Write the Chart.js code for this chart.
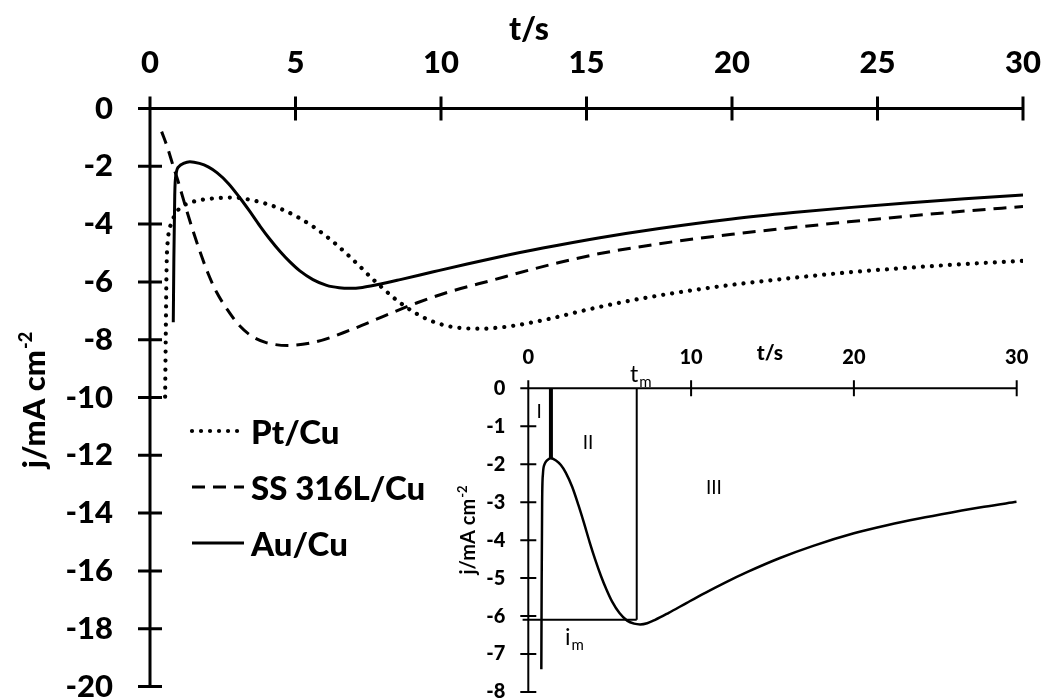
<!DOCTYPE html>
<html>
<head>
<meta charset="utf-8">
<script src="https://cdn.jsdelivr.net/npm/chart.js@4.4.0/dist/chart.umd.min.js"></script>
<style>
  body { margin: 0; background: #fff; }
  #wrap { position: relative; width: 1045px; height: 700px; }
  #main { position: absolute; left: 0; top: 0; }
  #inset { position: absolute; left: 440px; top: 330px; }
</style>
</head>
<body>
<div id="wrap">
  <canvas id="main" width="1045" height="700"></canvas>
  <canvas id="inset" width="605" height="370"></canvas>
</div>
<script>
// data (t in s, j in mA cm-2)
const tPt = [0.52, 0.54, 0.57, 0.62, 0.74, 0.9, 1.09, 1.4, 1.72, 2.3, 2.86, 3.5, 4.0, 4.6, 5.15, 5.7, 6.3, 6.75, 7.2, 7.6, 8.0, 8.5, 9.16, 9.74, 10.3, 10.9, 11.45, 12.0, 12.6, 13.75, 14.9, 16.04, 17.2, 18.7, 20, 22.1, 24, 25.5, 28, 30];
const jPt = [-9.97, -8.0, -5.5, -4.5, -3.97, -3.6, -3.4, -3.25, -3.17, -3.1, -3.08, -3.17, -3.3, -3.52, -3.8, -4.15, -4.62, -5.02, -5.45, -5.85, -6.22, -6.65, -7.1, -7.38, -7.54, -7.61, -7.62, -7.58, -7.5, -7.27, -6.99, -6.74, -6.52, -6.28, -6.1, -5.86, -5.67, -5.55, -5.38, -5.27];

const tSS = [0.40, 0.6, 0.8, 0.96, 1.1, 1.3, 1.5, 1.72, 2.0, 2.29, 2.7, 3.08, 3.5, 3.99, 4.73, 5.72, 6.87, 8.0, 9.16, 10.3, 11.8, 13.0, 14.1, 15.46, 17.5, 20, 22.1, 24, 26, 28, 30];
const jSS = [-0.80, -1.35, -2.0, -2.5, -2.98, -3.66, -4.3, -4.96, -5.72, -6.36, -7.02, -7.52, -7.88, -8.1, -8.2, -8.07, -7.67, -7.2, -6.73, -6.34, -5.93, -5.6, -5.32, -5.02, -4.68, -4.35, -4.12, -3.92, -3.73, -3.55, -3.39];

const tAu = [0.80, 0.82, 0.85, 0.90, 1.00, 1.15, 1.37, 1.7, 2.0, 2.3, 2.7, 3.08, 3.4, 3.78, 4.1, 4.47, 4.8, 5.15, 5.6, 6.07, 6.5, 6.87, 7.3, 7.79, 8.6, 9.74, 10.9, 12.03, 13.5, 15.46, 17.5, 20, 22.1, 24, 26, 28, 30];
const jAu = [-7.40, -5.2, -3.0, -2.25, -2.0, -1.9, -1.84, -1.9, -2.02, -2.22, -2.6, -3.08, -3.52, -4.07, -4.5, -4.95, -5.3, -5.62, -5.92, -6.12, -6.2, -6.22, -6.19, -6.1, -5.92, -5.65, -5.38, -5.13, -4.83, -4.47, -4.15, -3.82, -3.6, -3.43, -3.27, -3.12, -2.99];

// inset guide lines
const peakT = [1.39, 1.39], peakJ = [0, -1.85];
const tmT = [6.66, 6.66], tmJ = [0, -6.1];
const imT = [-0.35, 6.66], imJ = [-6.1, -6.1];

const FONT = 'Lato, "Open Sans", sans-serif';
const HEAVY = '900';

function pts(xs, ys) {
  return xs.map((x, i) => ({ x: x, y: ys[i] }));
}

// axes drawn through the origin with ticks crossing the line
const crossAxes = {
  id: 'crossAxes',
  afterDatasetsDraw(chart, args, opts) {
    const { ctx, scales: { x, y } } = chart;
    const x0 = x.getPixelForValue(0), y0 = y.getPixelForValue(0);
    const L = opts.tick;
    ctx.save();
    ctx.strokeStyle = '#000';
    ctx.lineWidth = opts.width;
    ctx.beginPath();
    ctx.moveTo(x0 - L, y0);
    ctx.lineTo(x.getPixelForValue(x.max), y0);
    ctx.moveTo(x0, y0 - L);
    ctx.lineTo(x0, y.getPixelForValue(y.min));
    x.ticks.forEach(t => {
      const p = x.getPixelForValue(t.value);
      ctx.moveTo(p, y0 - L); ctx.lineTo(p, y0 + L);
    });
    y.ticks.forEach(t => {
      const p = y.getPixelForValue(t.value);
      ctx.moveTo(x0 - L, p); ctx.lineTo(x0 + L, p);
    });
    ctx.stroke();
    ctx.restore();
  }
};

// text with a raised or lowered small part, left aligned at x
function drawScript(ctx, x, y, base, small, size, smallSize, shift, weight) {
  ctx.font = weight + ' ' + size + 'px ' + FONT;
  ctx.fillText(base, x, y);
  const w = ctx.measureText(base).width;
  ctx.font = weight + ' ' + smallSize + 'px ' + FONT;
  ctx.fillText(small, x + w + 1, y + shift);
}

function scriptWidth(ctx, base, small, size, smallSize, weight) {
  ctx.font = weight + ' ' + size + 'px ' + FONT;
  const a = ctx.measureText(base).width;
  ctx.font = weight + ' ' + smallSize + 'px ' + FONT;
  return a + 1 + ctx.measureText(small).width;
}

const titles = {
  id: 'titles',
  afterDraw(chart, args, o) {
    const ctx = chart.ctx;
    ctx.save();
    ctx.fillStyle = '#000';
    ctx.textBaseline = 'alphabetic';
    ctx.font = HEAVY + ' ' + o.xSize + 'px ' + FONT;
    ctx.textAlign = 'center';
    ctx.fillText('t/s', o.xPos[0], o.xPos[1]);
    ctx.textAlign = 'left';
    // y title, rotated
    const w = scriptWidth(ctx, 'j/mA cm', '-2', o.ySize, o.ySup, o.yWeight);
    ctx.translate(o.yPos[0], o.yPos[1]);
    ctx.rotate(-Math.PI / 2);
    drawScript(ctx, -w / 2, o.ySize * 0.35, 'j/mA cm', '-2', o.ySize, o.ySup, -o.ySize * 0.4, o.yWeight);
    ctx.restore();
  }
};

const legendBox = {
  id: 'legendBox',
  afterDraw(chart, args, o) {
    const ctx = chart.ctx;
    ctx.save();
    chart.data.datasets.forEach((ds, i) => {
      const y = o.top + i * o.gap;
      ctx.strokeStyle = '#000';
      ctx.lineWidth = ds.borderWidth;
      ctx.lineCap = ds.borderCapStyle || 'butt';
      ctx.setLineDash(ds.borderDash || []);
      ctx.beginPath();
      ctx.moveTo(o.x0, y);
      ctx.lineTo(o.x1, y);
      ctx.stroke();
      ctx.setLineDash([]);
      ctx.fillStyle = '#000';
      ctx.font = HEAVY + ' ' + o.size + 'px ' + FONT;
      ctx.textBaseline = 'middle';
      ctx.fillText(ds.label, o.x1 + 7, y + 2);
    });
    ctx.restore();
  }
};

const insetNotes = {
  id: 'insetNotes',
  afterDraw(chart, args, o) {
    const { ctx, scales: { x, y } } = chart;
    ctx.save();
    ctx.fillStyle = '#000';
    ctx.textAlign = 'center';
    ctx.textBaseline = 'middle';
    ctx.font = o.size + 'px ' + FONT;
    o.romans.forEach(r => ctx.fillText(r[0], x.getPixelForValue(r[1]), y.getPixelForValue(r[2])));
    ctx.textAlign = 'left';
    ctx.textBaseline = 'alphabetic';
    o.subs.forEach(s => drawScript(ctx, x.getPixelForValue(s[2]), y.getPixelForValue(s[3]), s[0], s[1], o.subSize, 15, 5, 'normal'));
    ctx.restore();
  }
};

function fixBox(size, horizontal) {
  return function (s) {
    if (horizontal) s.height = size; else s.width = size;
    s.paddingLeft = 0; s.paddingRight = 0; s.paddingTop = 0; s.paddingBottom = 0;
  };
}

const tickFont = (sz) => ({ family: FONT, size: sz, weight: HEAVY });

new Chart(document.getElementById('main'), {
  type: 'line',
  data: {
    datasets: [
      { label: 'Pt/Cu', data: pts(tPt, jPt), borderColor: '#000', borderWidth: 4.2, borderDash: [0.01, 9], borderCapStyle: 'round', pointRadius: 0, cubicInterpolationMode: 'monotone' },
      { label: 'SS 316L/Cu', data: pts(tSS, jSS), borderColor: '#000', borderWidth: 3, borderDash: [13, 8], pointRadius: 0, cubicInterpolationMode: 'monotone' },
      { label: 'Au/Cu', data: pts(tAu, jAu), borderColor: '#000', borderWidth: 3, pointRadius: 0, cubicInterpolationMode: 'monotone' }
    ]
  },
  options: {
    responsive: false,
    animation: false,
    events: [],
    layout: { padding: { left: 0, top: 0, right: 22, bottom: 13.5 } },
    scales: {
      x: {
        type: 'linear', position: 'top', min: 0, max: 30,
        grid: { display: false, drawTicks: false }, border: { display: false },
        ticks: { stepSize: 5, autoSkip: false, maxRotation: 0, padding: 27, color: '#000', font: tickFont(31) },
        afterFit: fixBox(108.5, true)
      },
      y: {
        type: 'linear', min: -20, max: 0,
        grid: { display: false, drawTicks: false }, border: { display: false },
        ticks: { stepSize: 2, autoSkip: false, padding: 37, color: '#000', font: tickFont(31) },
        afterFit: fixBox(150, false)
      }
    },
    plugins: {
      legend: { display: false },
      tooltip: { enabled: false },
      crossAxes: { tick: 12, width: 3 },
      titles: { xPos: [529, 40], xSize: 32, yPos: [34, 400], ySize: 31, ySup: 18, yWeight: HEAVY },
      legendBox: { x0: 192, x1: 244, top: 431, gap: 56, size: 33 }
    }
  },
  plugins: [crossAxes, titles, legendBox]
});

new Chart(document.getElementById('inset'), {
  type: 'line',
  data: {
    datasets: [
      { data: pts(tAu, jAu), borderColor: '#000', borderWidth: 2.5, pointRadius: 0, cubicInterpolationMode: 'monotone' },
      { data: pts(peakT, peakJ), borderColor: '#000', borderWidth: 4, pointRadius: 0 },
      { data: pts(tmT, tmJ), borderColor: '#000', borderWidth: 2, pointRadius: 0 },
      { data: pts(imT, imJ), borderColor: '#000', borderWidth: 2, pointRadius: 0, clip: false }
    ]
  },
  options: {
    responsive: false,
    animation: false,
    events: [],
    layout: { padding: { left: 0, top: 0, right: 28.3, bottom: 8 } },
    scales: {
      x: {
        type: 'linear', position: 'top', min: 0, max: 30,
        grid: { display: false, drawTicks: false }, border: { display: false },
        ticks: { stepSize: 10, autoSkip: false, maxRotation: 0, padding: 19, color: '#000', font: tickFont(20) },
        afterFit: fixBox(58.3, true)
      },
      y: {
        type: 'linear', min: -8, max: 0,
        grid: { display: false, drawTicks: false }, border: { display: false },
        ticks: { stepSize: 1, autoSkip: false, padding: 23, color: '#000', font: tickFont(20) },
        afterFit: fixBox(88.3, false)
      }
    },
    plugins: {
      legend: { display: false },
      tooltip: { enabled: false },
      crossAxes: { tick: 8, width: 2 },
      titles: { xPos: [330, 30], xSize: 21, yPos: [28, 200], ySize: 20, ySup: 13, yWeight: 'bold' },
      insetNotes: {
        size: 19, subSize: 23,
        romans: [['I', 0.66, -0.62], ['II', 3.67, -1.44], ['III', 11.4, -2.63]],
        subs: [['t', 'm', 6.25, 0.17], ['i', 'm', 2.26, -6.75]]
      }
    }
  },
  plugins: [crossAxes, titles, insetNotes]
});
</script>
</body>
</html>
